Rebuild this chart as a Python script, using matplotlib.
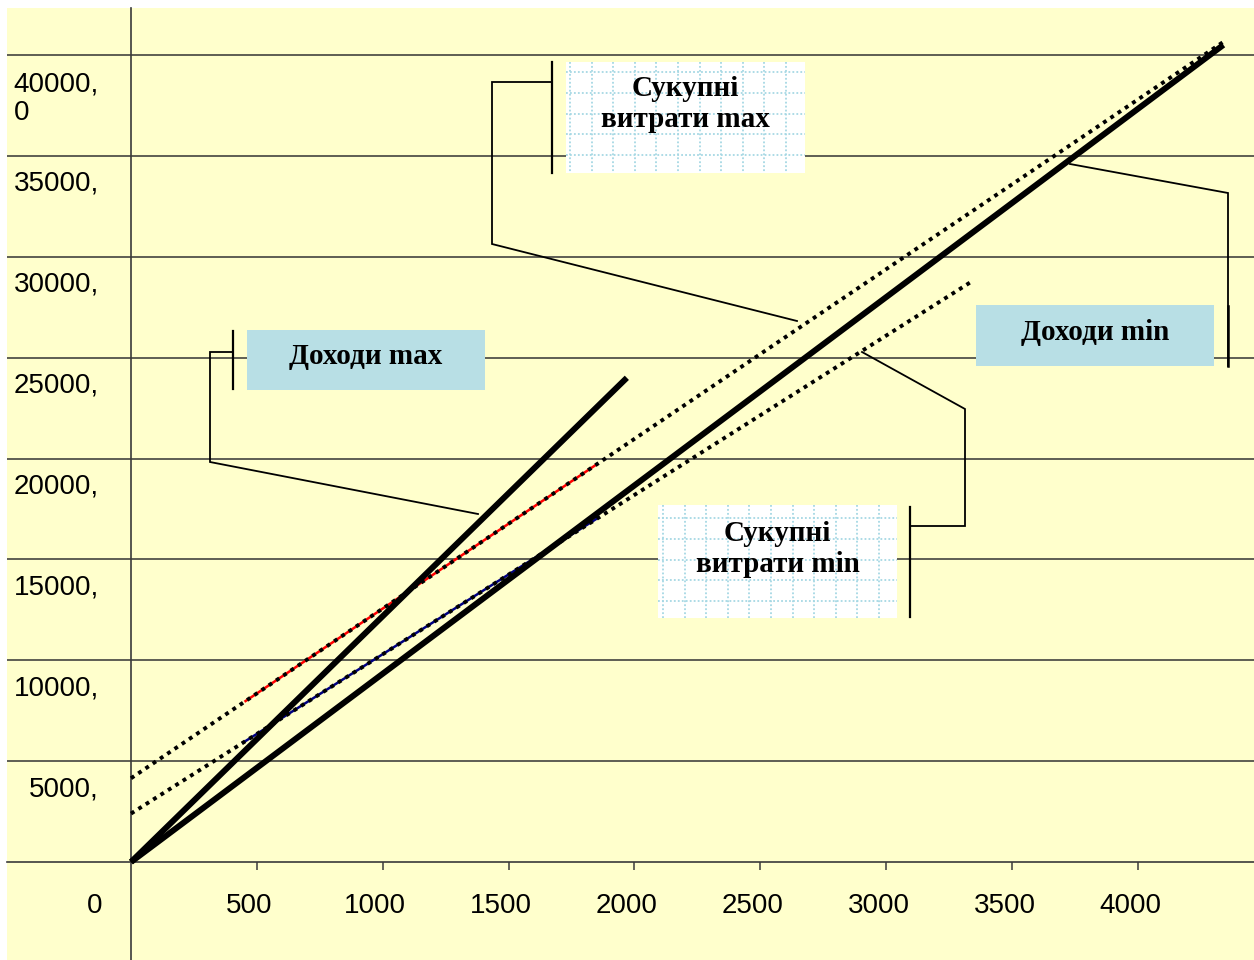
import matplotlib
matplotlib.use("Agg")
import matplotlib.pyplot as plt
import matplotlib.transforms as mtransforms
from matplotlib.patches import Rectangle
import numpy as np

# ---- data ----
q_rev_max = [0, 1970]
rev_max = [0, 24000]
q_rev_min = [0, 4340]
rev_min = [0, 40500]
q_cost_max = [0, 4340]
cost_max = [4150, 40650]
q_cost_min = [0, 3337]
cost_min = [2400, 28750]
q_seg_max = [455, 1850]
seg_max = [7977, 19709]
q_seg_min = [445, 1855]
seg_min = [5915, 17055]

x_ticks = [500, 1000, 1500, 2000, 2500, 3000, 3500, 4000]
x_labels = ["500", "1000", "1500", "2000", "2500", "3000", "3500", "4000"]
y_ticks = [5000, 10000, 15000, 20000, 25000, 30000, 35000, 40000]
y_labels = ["5000,", "10000,", "15000,", "20000,", "25000,", "30000,", "35000,", "40000,\n0"]

W, H = 1254, 960
DPI = 100
YELLOW = "#FFFFCC"
BOXBLUE = "#B8DFE5"
GRIDBLUE = "#A6D8E4"

fig = plt.figure(figsize=(W / DPI, H / DPI), dpi=DPI, facecolor="white")
ax = fig.add_axes([7 / W, 0, 1 - 7 / W, 1 - 8 / H])
ax.set_facecolor(YELLOW)

# origin at pixel (131, 862); 0.2517 px per unit on x, 0.020175 px per unit on y
ax.set_xlim((7 - 131) / 0.2517, (W - 131) / 0.2517)
ax.set_ylim(-(H - 862) / 0.020175, (862 - 8) / 0.020175)

for s in ("top", "right"):
    ax.spines[s].set_visible(False)
for s in ("left", "bottom"):
    ax.spines[s].set_position(("data", 0))
    ax.spines[s].set_color("#3a3a3a")
    ax.spines[s].set_linewidth(1.2)
    ax.spines[s].set_zorder(1.5)

ax.set_xticks(x_ticks)
ax.set_yticks(y_ticks)
ax.tick_params(axis="x", direction="out", length=6, width=1.1, color="#3a3a3a",
               labelbottom=False)
ax.tick_params(axis="y", length=0, labelleft=False)
ax.grid(axis="y", color="#333333", linewidth=1.1, zorder=1)
ax.set_axisbelow(True)

tick_font = dict(family=["Liberation Sans", "DejaVu Sans"], fontsize=20, color="black")


def offset(dx, dy):
    return ax.transData + mtransforms.ScaledTranslation(dx / DPI, -dy / DPI, fig.dpi_scale_trans)


for xv, lab in zip(x_ticks, x_labels):
    ax.text(xv, 0, lab, transform=offset(-7.5, 51), ha="center", va="baseline", **tick_font)
ax.text(0, 0, "0", transform=offset(-36, 51), ha="center", va="baseline", **tick_font)
for yv, lab in zip(y_ticks, y_labels):
    # first line's baseline sits 35 px under the gridline; wrapped lines follow 30 px apart
    n_lines = lab.count("\n") + 1
    ax.text(0, yv, lab, transform=offset(-32, 35 + 30 * (n_lines - 1)), ha="right",
            va="baseline", multialignment="left", linespacing=1.15, **tick_font)

# ---- series ----
ax.plot(q_seg_max, seg_max, color="red", lw=1.8, zorder=3)
ax.plot(q_seg_min, seg_min, color="#000080", lw=1.8, zorder=3)
dot = (0, (1, 1.25))
ax.plot(q_cost_max, cost_max, color="black", lw=2.8, linestyle=dot, zorder=4)
ax.plot(q_cost_min, cost_min, color="black", lw=2.8, linestyle=dot, zorder=4)
ax.plot(q_rev_max, rev_max, color="black", lw=4.3, solid_capstyle="butt", zorder=5)
ax.plot(q_rev_min, rev_min, color="black", lw=4.3, solid_capstyle="butt", zorder=5)

# ---- callout boxes (pixel coordinates, origin at top-left) ----
pix = mtransforms.Affine2D().scale(1 / W, -1 / H).translate(0, 1) + fig.transFigure
label_font = dict(family=["Liberation Serif", "DejaVu Serif"], fontsize=21,
                  fontweight="bold", color="black")


def plain_box(x0, y0, x1, y1):
    fig.patches.append(Rectangle((x0, y1), x1 - x0, y0 - y1, transform=pix,
                                 facecolor=BOXBLUE, edgecolor="none", zorder=6))


def grid_box(x0, y0, x1, y1, gx0, gy0):
    fig.patches.append(Rectangle((x0, y1), x1 - x0, y0 - y1, transform=pix,
                                 facecolor="white", edgecolor="none", zorder=6))
    for gx in np.arange(gx0, x1, 21.6):
        fig.lines.append(plt.Line2D([gx, gx], [y0, y1], transform=pix, color=GRIDBLUE,
                                    lw=1.3, linestyle=(0, (1, 1.2)), zorder=6.5))
    for gy in np.arange(gy0, y1, 20.8):
        fig.lines.append(plt.Line2D([x0, x1], [gy, gy], transform=pix, color=GRIDBLUE,
                                    lw=1.3, linestyle=(0, (1, 1.2)), zorder=6.5))


def polyline(xs, ys, lw=1.3):
    fig.lines.append(plt.Line2D(xs, ys, transform=pix, color="black", lw=lw,
                                solid_joinstyle="miter", zorder=7))


# Доходи max
plain_box(247, 330, 485, 390)
fig.text(366, 356, "Доходи max", transform=pix, ha="center", va="center", zorder=8, **label_font)
polyline([233, 233], [331, 389], lw=1.6)
polyline([233, 210, 210, 478], [352, 352, 462, 514])

# Сукупні витрати max
grid_box(566, 62, 805, 173, 570, 72)
fig.text(685.5, 104, "Сукупні\nвитрати max", transform=pix, ha="center", va="center",
         linespacing=1.2, zorder=8, **label_font)
polyline([552, 552], [62, 173], lw=1.6)
polyline([552, 492, 492, 797], [82, 82, 244, 321])

# Доходи min
plain_box(976, 305, 1214, 366)
fig.text(1095, 332, "Доходи min", transform=pix, ha="center", va="center", zorder=8, **label_font)
polyline([1228, 1228], [306, 366], lw=1.8)
polyline([1228, 1228, 1070], [366, 193, 164])

# Сукупні витрати min
grid_box(658, 505, 897, 618, 663, 518)
fig.text(777.5, 549, "Сукупні\nвитрати min", transform=pix, ha="center", va="center",
         linespacing=1.2, zorder=8, **label_font)
polyline([910, 910], [507, 617], lw=1.6)
polyline([910, 965, 965, 862], [526, 526, 409, 352])

fig.savefig("out.png", dpi=DPI, facecolor="white")
